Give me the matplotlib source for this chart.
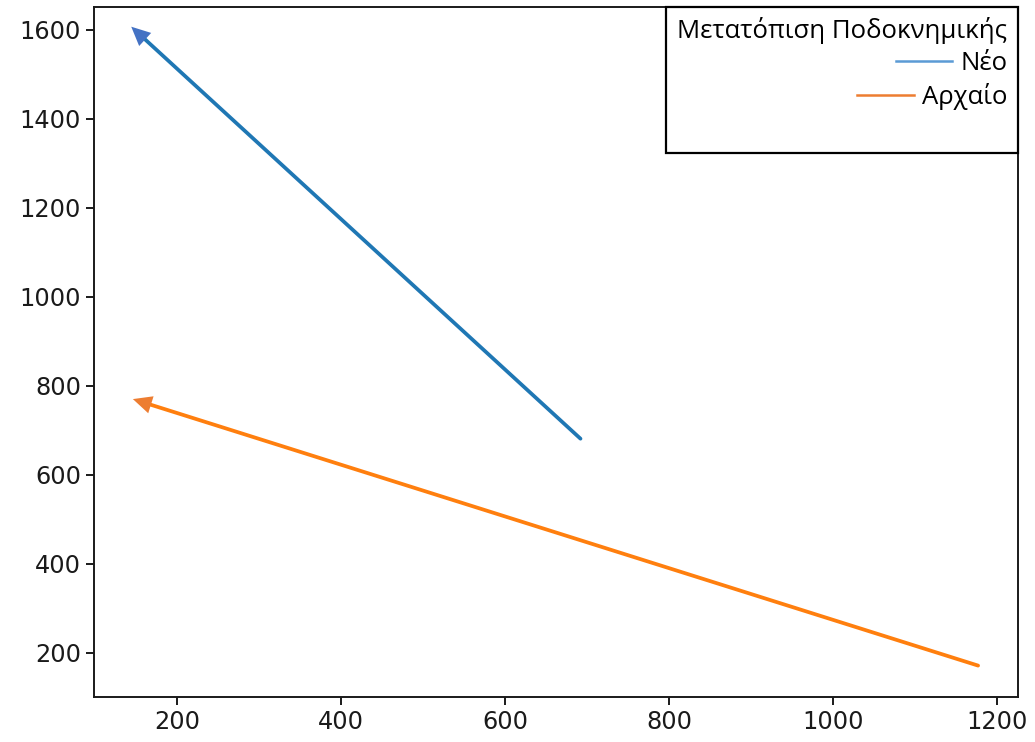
import matplotlib
matplotlib.use("Agg")
import matplotlib.pyplot as plt
from matplotlib.lines import Line2D

# arrow start (tail) and end (head) points
neo_x = [692, 144]
neo_y = [681, 1607]
archaio_x = [1177, 146]
archaio_y = [171, 770]

legend_title = "Μετατόπιση Ποδοκνημικής"
labels = ["Νέο", "Αρχαίο"]

x_ticks = [200, 400, 600, 800, 1000, 1200]
y_ticks = [200, 400, 600, 800, 1000, 1200, 1400, 1600]

fig = plt.figure(figsize=(10.35, 7.42), dpi=100)
ax = fig.add_axes([0.091, 0.061, 0.8925, 0.93])

def draw_arrow(xs, ys, line_color, head_color):
    ax.plot(xs[:1] + [xs[1] + (xs[0] - xs[1]) * 0.012], ys[:1] + [ys[1] + (ys[0] - ys[1]) * 0.012],
            color=line_color, lw=2.7, solid_capstyle="round")
    ax.annotate("", xy=(xs[1], ys[1]), xytext=(xs[0], ys[0]),
                arrowprops=dict(arrowstyle="-|>,head_length=0.85,head_width=0.4",
                                color=head_color, lw=0, shrinkA=0, shrinkB=0,
                                mutation_scale=16))

draw_arrow(neo_x, neo_y, "#1f77b4", "#4472c4")
draw_arrow(archaio_x, archaio_y, "#ff7f0e", "#ed7d31")

ax.set_xlim(98.8, 1225.6)
ax.set_ylim(101, 1652)
ax.set_xticks(x_ticks)
ax.set_yticks(y_ticks)
ax.tick_params(labelsize=17.3, length=6, width=1.4, color="#1a1a1a", labelcolor="#1a1a1a")
for s in ax.spines.values():
    s.set_linewidth(1.4)
    s.set_color("#1a1a1a")

handles = [Line2D([], [], color="#5b9bd5", lw=1.8),
           Line2D([], [], color="#ed7d31", lw=1.8),
           Line2D([], [], color="none")]
leg = ax.legend(handles, labels + [" "], title=legend_title, loc="upper right",
                alignment="right", fancybox=False, borderaxespad=0,
                prop={"family": "Open Sans", "size": 18.5},
                title_fontproperties={"family": "Open Sans", "size": 18.5},
                handlelength=2.2, handletextpad=0.3, labelspacing=0.27,
                borderpad=0.42, framealpha=1)
leg.get_frame().set_edgecolor("black")
leg.get_frame().set_linewidth(1.6)
# right-align each entry row like the original
for col in leg._legend_handle_box.get_children():
    col.align = "right"

fig.savefig("out.png", dpi=100)
